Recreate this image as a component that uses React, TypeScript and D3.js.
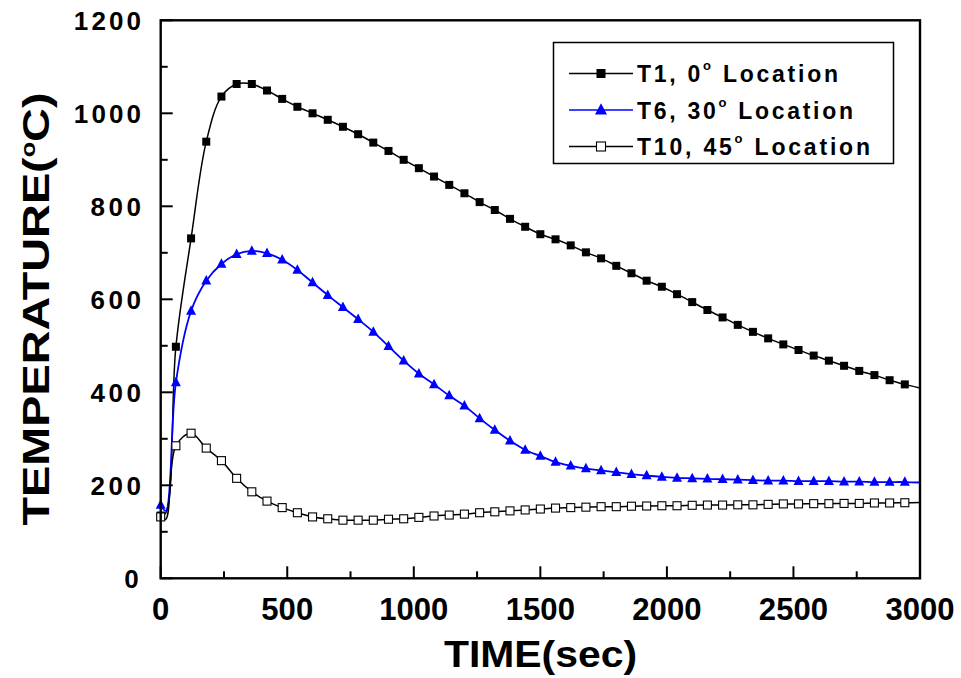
import React from "react";
import * as d3 from "d3";

const TIME = [0, 20, 60, 120, 180, 240, 300, 360, 420, 480, 540, 600, 660, 720, 780, 840, 900, 960, 1020, 1080, 1140, 1200, 1260, 1320, 1380, 1440, 1500, 1560, 1620, 1680, 1740, 1800, 1860, 1920, 1980, 2040, 2100, 2160, 2220, 2280, 2340, 2400, 2460, 2520, 2580, 2640, 2700, 2760, 2820, 2880, 2940, 3000];

const T1 = [135, 140, 498, 731, 939, 1036, 1063, 1063, 1049, 1031, 1014, 1000, 986, 971, 955, 937, 919, 900, 882, 864, 846, 828, 809, 792, 773, 756, 740, 729, 716, 701, 688, 672, 656, 640, 627, 611, 594, 577, 561, 545, 530, 516, 503, 491, 479, 468, 457, 446, 437, 426, 417, 409];

const T6 = [158, 145, 421, 575, 640, 676, 697, 704, 699, 685, 663, 636, 609, 583, 557, 530, 499, 468, 440, 417, 393, 371, 344, 319, 296, 276, 263, 250, 242, 236, 232, 228, 224, 221, 218, 216, 215, 214, 213, 212, 211, 210, 210, 209, 209, 209, 208, 208, 207, 207, 207, 206];

const T10 = [132, 127, 285, 312, 280, 253, 215, 186, 166, 152, 141, 132, 128, 125, 125, 125, 127, 128, 131, 134, 136, 138, 141, 143, 145, 147, 149, 151, 152, 153, 154, 154, 155, 155.5, 156, 156, 157, 157.5, 157.5, 158, 158, 159, 160, 160, 160.5, 160.5, 161, 161, 162, 162, 162.5, 163];

const X_TICKS = [0, 500, 1000, 1500, 2000, 2500, 3000];
const Y_TICKS = [0, 200, 400, 600, 800, 1000, 1200];
const X_MINOR = [250, 750, 1250, 1750, 2250, 2750];
const Y_MINOR = [100, 300, 500, 700, 900, 1100];

const SERIES_NAMES = ["T1, 0", "T6, 30", "T10, 45"];

const W = 961;
const H = 678;
const L = 160.7;
const R = 920;
const T = 20.3;
const B = 578.3;
const FONT = "'Liberation Sans', Arial, sans-serif";

export default function App() {
  const x = d3.scaleLinear().domain([0, 3000]).range([L, R]);
  const y = d3.scaleLinear().domain([0, 1200]).range([B, T]);
  const line = d3
    .line<number>()
    .x((_, i) => x(TIME[i]))
    .y((d) => y(d))
    .curve(d3.curveCatmullRom.alpha(0.5));

  const markerIdx = TIME.map((t, i) => (t % 60 === 0 && t < 3000 ? i : -1)).filter((i) => i >= 0);

  const square = (cx: number, cy: number, s: number, fill: string, key: string) => (
    <rect key={key} x={cx - s / 2} y={cy - s / 2} width={s} height={s} fill={fill} stroke="#000" strokeWidth={fill === "#000" ? 0 : 1.1} />
  );
  const tri = (cx: number, cy: number, s: number, key: string) => {
    const h = s * 0.95;
    const p = d3.path();
    p.moveTo(cx, cy - h * 0.6);
    p.lineTo(cx + s / 2, cy + h * 0.4);
    p.lineTo(cx - s / 2, cy + h * 0.4);
    p.closePath();
    return <path key={key} d={p.toString()} fill="#0000ff" />;
  };

  const legendRows = [
    { y: 73.5, color: "#000", name: SERIES_NAMES[0], rest: " Location", mk: "fsq", lw: 1.3, len: 201 },
    { y: 110, color: "#0000ff", name: SERIES_NAMES[1], rest: " Location", mk: "tri", lw: 1.6, len: 216 },
    { y: 146.5, color: "#000", name: SERIES_NAMES[2], rest: " Location", mk: "osq", lw: 1.3, len: 233 },
  ];

  return (
    <svg width={W} height={H} style={{ position: "absolute", left: 0, top: 0, background: "#fff" }} fontFamily={FONT}>
      <rect x={0} y={0} width={W} height={H} fill="#fff" />
      <defs>
        <clipPath id="plot">
          <rect x={L} y={T} width={R - L} height={B - T} />
        </clipPath>
      </defs>

      {/* lines */}
      <g clipPath="url(#plot)">
        <path d={line(T1) || ""} fill="none" stroke="#000" strokeWidth={1.5} />
        <path d={line(T6) || ""} fill="none" stroke="#0000ff" strokeWidth={1.8} />
        <path d={line(T10) || ""} fill="none" stroke="#000" strokeWidth={1.5} />
      </g>

      {/* markers */}
      <g>
        {markerIdx.map((i) => square(x(TIME[i]), y(T1[i]), 8, "#000", "a" + i))}
        {markerIdx.map((i) => tri(x(TIME[i]), y(T6[i]), 10, "b" + i))}
        {markerIdx.map((i) => square(x(TIME[i]), y(T10[i]), 8, "#fff", "c" + i))}
      </g>

      {/* frame */}
      <rect x={L} y={T} width={R - L} height={B - T} fill="none" stroke="#000" strokeWidth={2.4} />

      {/* ticks */}
      {X_TICKS.map((t) => (
        <line key={"xt" + t} x1={x(t)} x2={x(t)} y1={B} y2={B - 12} stroke="#000" strokeWidth={2} />
      ))}
      {X_MINOR.map((t) => (
        <line key={"xm" + t} x1={x(t)} x2={x(t)} y1={B} y2={B - 7} stroke="#000" strokeWidth={2} />
      ))}
      {Y_TICKS.map((t) => (
        <line key={"yt" + t} x1={L} x2={L + 12} y1={y(t)} y2={y(t)} stroke="#000" strokeWidth={2} />
      ))}
      {Y_MINOR.map((t) => (
        <line key={"ym" + t} x1={L} x2={L + 7} y1={y(t)} y2={y(t)} stroke="#000" strokeWidth={2} />
      ))}

      {/* tick labels */}
      {X_TICKS.map((t) => {
        const s = String(t);
        return (
          <text key={"xl" + t} x={x(t)} y={620} textAnchor="middle" fontSize={31} fontWeight="bold" textLength={s.length * 17.3} lengthAdjust="spacingAndGlyphs">
            {s}
          </text>
        );
      })}
      {Y_TICKS.map((t) => {
        const s = String(t);
        const w = s.length * 16.8;
        return (
          <text key={"yl" + t} x={141 - w} y={y(t) + 9.5} textAnchor="start" fontSize={26} fontWeight="bold" textLength={w} lengthAdjust="spacing">
            {s}
          </text>
        );
      })}

      {/* axis titles */}
      <text x={540.5} y={667} textAnchor="middle" fontSize={37} fontWeight="bold" textLength={193} lengthAdjust="spacingAndGlyphs">
        TIME(sec)
      </text>
      <text transform="translate(49,309) rotate(-90)" textAnchor="middle" fontSize={37} fontWeight="bold" textLength={433} lengthAdjust="spacingAndGlyphs">
        TEMPERATURE(<tspan fontSize={20} dy={-14}>o</tspan><tspan dy={14}>C)</tspan>
      </text>

      {/* legend */}
      <rect x={553.5} y={42.5} width={340} height={121} fill="#fff" stroke="#000" strokeWidth={1.5} />
      {legendRows.map((r, k) => (
        <g key={"lg" + k}>
          <line x1={569} x2={633} y1={r.y} y2={r.y} stroke={r.color} strokeWidth={r.lw} />
          {r.mk === "fsq" && square(601, r.y, 9, "#000", "lm" + k)}
          {r.mk === "osq" && square(601, r.y, 9, "#fff", "lm" + k)}
          {r.mk === "tri" && tri(601, r.y, 12, "lm" + k)}
          <text x={637} y={r.y + 8.5} fontSize={23} fontWeight="bold" textLength={r.len} lengthAdjust="spacing">
            {r.name}
            <tspan fontSize={13} dy={-12}>o</tspan>
            <tspan dy={12}>{r.rest}</tspan>
          </text>
        </g>
      ))}
    </svg>
  );
}
